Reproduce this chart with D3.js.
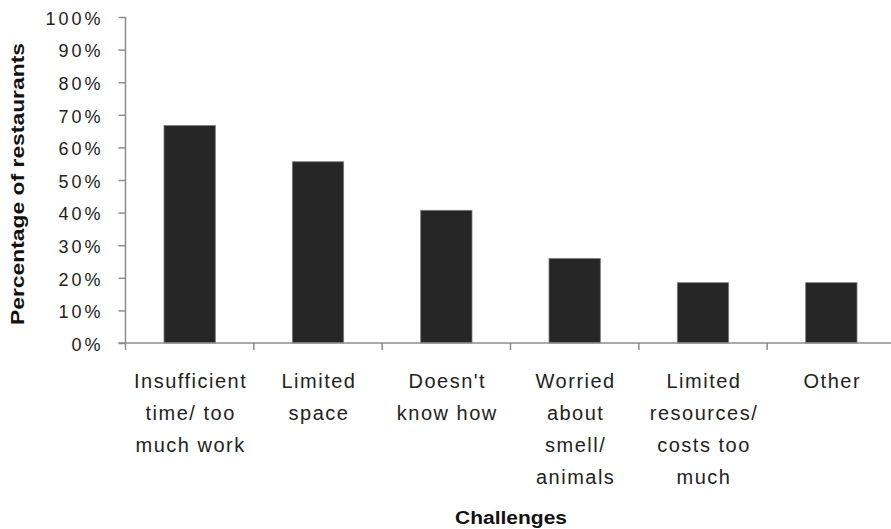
<!DOCTYPE html>
<html>
<head>
<meta charset="utf-8">
<script src="https://cdn.jsdelivr.net/npm/d3@7"></script>
<style>
	body { margin: 0; background: #fff; }
	svg { display: block; font-family: "Liberation Sans", Arial, sans-serif; }
</style>
</head>
<body>
<svg id="chart" width="891" height="529"></svg>
<script>
// chart data
const categories = [
	["Insufficient", "time/ too", "much work"],
	["Limited", "space"],
	["Doesn't", "know how"],
	["Worried", "about", "smell/", "animals"],
	["Limited", "resources/", "costs too", "much"],
	["Other"]
];
const values = [0.667, 0.556, 0.407, 0.259, 0.185, 0.185];
const yTicks = [0, 0.1, 0.2, 0.3, 0.4, 0.5, 0.6, 0.7, 0.8, 0.9, 1.0];
const yTitle = "Percentage of restaurants";
const xTitle = "Challenges";

const svg = d3.select("#chart");
const axisColor = "#8c8c8c";

const plotLeft = 125.5, plotRight = 895.5, plotTop = 17, plotBottom = 343;

const x = d3.scaleBand()
	.domain(d3.range(categories.length))
	.range([plotLeft, plotRight])
	.paddingInner(0.6)
	.paddingOuter(0.3);

const y = d3.scaleLinear()
	.domain([0, 1])
	.range([plotBottom, plotTop]);

// bars
svg.append("g")
	.selectAll("rect")
	.data(values)
	.join("rect")
	.attr("x", (d, i) => x(i))
	.attr("y", d => y(d))
	.attr("width", x.bandwidth())
	.attr("height", d => y(0) - y(d))
	.attr("fill", "#262626")
	.attr("stroke", "#7a7a7a")
	.attr("stroke-width", 0.8);

// y axis
const yAxis = svg.append("g")
	.attr("transform", `translate(${plotLeft},0)`)
	.call(d3.axisLeft(y).tickValues(yTicks).tickSize(7).tickFormat(d3.format(".0%")));
yAxis.select(".domain").attr("stroke", axisColor).attr("stroke-width", 1.5).attr("d", `M0,${plotTop}V${plotBottom}`);
yAxis.selectAll(".tick line").attr("stroke", axisColor).attr("stroke-width", 1.5);
yAxis.selectAll(".tick text")
	.attr("x", -22)
	.attr("dy", "0.4em")
	.attr("fill", "#222")
	.style("font-size", "18px")
	.style("letter-spacing", "3px")
	.style("font-family", "'Liberation Sans', Arial, sans-serif");

// x axis line + ticks at band boundaries
const step = x.step();
const xAxis = svg.append("g");
xAxis.append("line")
	.attr("x1", plotLeft - 7).attr("x2", plotRight)
	.attr("y1", plotBottom).attr("y2", plotBottom)
	.attr("stroke", axisColor).attr("stroke-width", 1.5);
xAxis.selectAll(".xtick")
	.data(d3.range(categories.length + 1))
	.join("line")
	.attr("class", "xtick")
	.attr("x1", i => plotLeft + i * step).attr("x2", i => plotLeft + i * step)
	.attr("y1", plotBottom).attr("y2", plotBottom + 7)
	.attr("stroke", axisColor).attr("stroke-width", 1.5);

// category labels
const labels = svg.append("g")
	.selectAll("text")
	.data(categories)
	.join("text")
	.attr("text-anchor", "middle")
	.attr("fill", "#222")
	.style("font-size", "20px")
	.style("letter-spacing", "1.5px");
labels.selectAll("tspan")
	.data((d, i) => d.map(line => ({ line, i })))
	.join("tspan")
	.attr("x", d => x(d.i) + x.bandwidth() / 2 + 1)
	.attr("y", (d, j) => 388 + j * 32)
	.text(d => d.line);

// axis titles
svg.append("text")
	.attr("transform", "translate(24,184) rotate(-90)")
	.attr("text-anchor", "middle")
	.attr("fill", "#111")
	.attr("textLength", 282)
	.attr("lengthAdjust", "spacingAndGlyphs")
	.style("font-size", "18px")
	.style("font-weight", "bold")
	.text(yTitle);

svg.append("text")
	.attr("x", 511)
	.attr("y", 524)
	.attr("text-anchor", "middle")
	.attr("fill", "#111")
	.attr("textLength", 112)
	.attr("lengthAdjust", "spacingAndGlyphs")
	.style("font-size", "18px")
	.style("font-weight", "bold")
	.text(xTitle);
</script>
</body>
</html>
